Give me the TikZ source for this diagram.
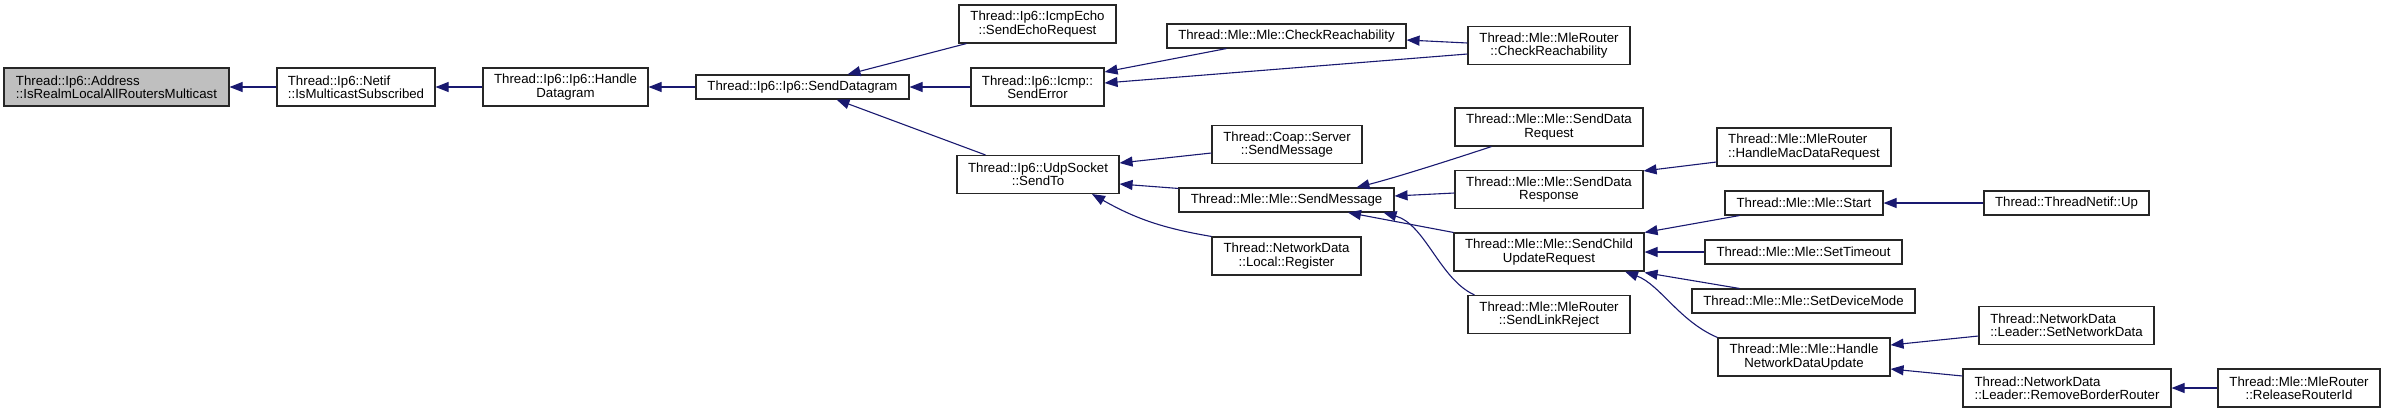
\documentclass[tikz,border=0pt]{standalone}
\usepackage{fontspec}
\setmainfont{Liberation Sans}
\usetikzlibrary{arrows.meta,calc}
\definecolor{edgeblue}{RGB}{25,25,112}
\definecolor{rootgray}{RGB}{191,191,191}
\tikzset{
  box/.style={draw=black!85, line width=1.1pt, fill=white, inner sep=0pt,
    font=\fontsize{13.25}{13.3}\selectfont, align=center},
  lbox/.style={box, align=left},
  rootbox/.style={lbox, fill=rootgray},
  one/.style={minimum height=24pt},
  two/.style={minimum height=38pt},
  edge/.style={draw=edgeblue, line width=1.1pt, -{Triangle[length=13pt,width=10pt]}},
}
\begin{document}
\begin{tikzpicture}[x=1pt,y=-1pt]
\useasboundingbox (0,0) rectangle (2386,413);
% column 0-3
\node[rootbox,two,minimum width=225] (addr) at (116.5,87) {Thread::Ip6::Address\\::IsRealmLocalAllRoutersMulticast};
\node[lbox,two,minimum width=158] (netif) at (356,87) {Thread::Ip6::Netif\\::IsMulticastSubscribed};
\node[box,two,minimum width=165] (hdg) at (565.5,87) {Thread::Ip6::Ip6::Handle\\Datagram};
\node[box,one,minimum width=213] (sdg) at (802.5,87) {Thread::Ip6::Ip6::SendDatagram};
% column 4
\node[box,two,minimum width=157] (echo) at (1037.5,24) {Thread::Ip6::IcmpEcho\\::SendEchoRequest};
\node[box,two,minimum width=133] (serr) at (1037.5,87) {Thread::Ip6::Icmp::\\SendError};
\node[box,two,minimum width=162] (sendto) at (1038,174.5) {Thread::Ip6::UdpSocket\\::SendTo};
% column 5
\node[box,one,minimum width=239] (mchk) at (1286.5,36) {Thread::Mle::Mle::CheckReachability};
\node[box,two,minimum width=150] (coap) at (1287,144.5) {Thread::Coap::Server\\::SendMessage};
\node[box,one,minimum width=215] (smsg) at (1286.5,200) {Thread::Mle::Mle::SendMessage};
\node[box,two,minimum width=149] (reg) at (1286.5,256) {Thread::NetworkData\\::Local::Register};
% column 6
\node[box,two,minimum width=162] (rchk) at (1549,45.5) {Thread::Mle::MleRouter\\::CheckReachability};
\node[box,two,minimum width=188] (sdreq) at (1549,127) {Thread::Mle::Mle::SendData\\Request};
\node[box,two,minimum width=188] (sdresp) at (1549,189.5) {Thread::Mle::Mle::SendData\\Response};
\node[box,two,minimum width=190] (scur) at (1549,252) {Thread::Mle::Mle::SendChild\\UpdateRequest};
\node[box,two,minimum width=162] (slr) at (1549,314.5) {Thread::Mle::MleRouter\\::SendLinkReject};
% column 7
\node[lbox,two,minimum width=174] (hmdr) at (1804,147) {Thread::Mle::MleRouter\\::HandleMacDataRequest};
\node[box,one,minimum width=158] (start) at (1804,203) {Thread::Mle::Mle::Start};
\node[box,one,minimum width=197] (stmo) at (1803.5,252) {Thread::Mle::Mle::SetTimeout};
\node[box,one,minimum width=223] (sdm) at (1803.5,301) {Thread::Mle::Mle::SetDeviceMode};
\node[box,two,minimum width=172] (hndu) at (1804,357) {Thread::Mle::Mle::Handle\\NetworkDataUpdate};
% column 8-9
\node[box,one,minimum width=165] (up) at (2066.5,203) {Thread::ThreadNetif::Up};
\node[lbox,two,minimum width=175] (setnd) at (2066.5,325.5) {Thread::NetworkData\\::Leader::SetNetworkData};
\node[lbox,two,minimum width=208] (rbr) at (2067,388) {Thread::NetworkData\\::Leader::RemoveBorderRouter};
\node[box,two,minimum width=162] (rrid) at (2299,388) {Thread::Mle::MleRouter\\::ReleaseRouterId};
% edges
\draw[edge] (netif.west) -- (addr.east);
\draw[edge] (hdg.west) -- (netif.east);
\draw[edge] (sdg.west) -- (hdg.east);
\draw[edge] ($(echo.south west)+(8,0)$) -- ($(sdg.north)+(45,0)$);
\draw[edge] (serr.west) -- (sdg.east);
\draw[edge] ($(sendto.north west)+(29,0)$) -- ($(sdg.south)+(34,0)$);
\draw[edge] ($(mchk.south west)+(60,0)$) -- ($(serr.east)+(0,-15)$);
\draw[edge] ($(rchk.west)+(0,8.5)$) -- ($(serr.east)+(0,-4)$);
\draw[edge] ($(rchk.west)+(0,-2.5)$) -- ($(mchk.east)+(0,4)$);
\draw[edge] ($(coap.west)+(0,8.5)$) -- ($(sendto.east)+(0,-11.5)$);
\draw[edge] ($(smsg.north west)+(0,1)$) -- ($(sendto.east)+(0,9.5)$);
\draw[edge] (reg.north west) to[bend left=10] ($(sendto.south)+(54,0)$);
\draw[edge] ($(sdreq.south west)+(37,0)$) .. controls +(-30,10) and +(40,-10) .. ($(smsg.north)+(70,0)$);
\draw[edge] ($(sdresp.west)+(0,3.5)$) -- ($(smsg.east)+(0,-4)$);
\draw[edge] (scur.north west) -- ($(smsg.south)+(61.5,0)$);
\draw[edge] ($(slr.north west)+(7,0)$) .. controls +(-35,-16) and +(42,12) .. ($(smsg.south)+(97,0)$);
\draw[edge] ($(hmdr.west)+(0,15)$) -- ($(sdresp.north east)+(0,1)$);
\draw[edge] ($(start.south west)+(15,0)$) -- (scur.north east);
\draw[edge] (stmo.west) -- (scur.east);
\draw[edge] ($(sdm.north west)+(48,0)$) -- ($(scur.south east)+(0,1)$);
\draw[edge] (hndu.north west) .. controls +(-38,-16) and +(35,13) .. ($(scur.south)+(76,0)$);
\draw[edge] (up.west) -- (start.east);
\draw[edge] ($(setnd.west)+(0,10.5)$) -- ($(hndu.east)+(0,-12)$);
\draw[edge] ($(rbr.west)+(0,-12)$) -- ($(hndu.east)+(0,12)$);
\draw[edge] (rrid.west) -- (rbr.east);
\end{tikzpicture}
\end{document}
